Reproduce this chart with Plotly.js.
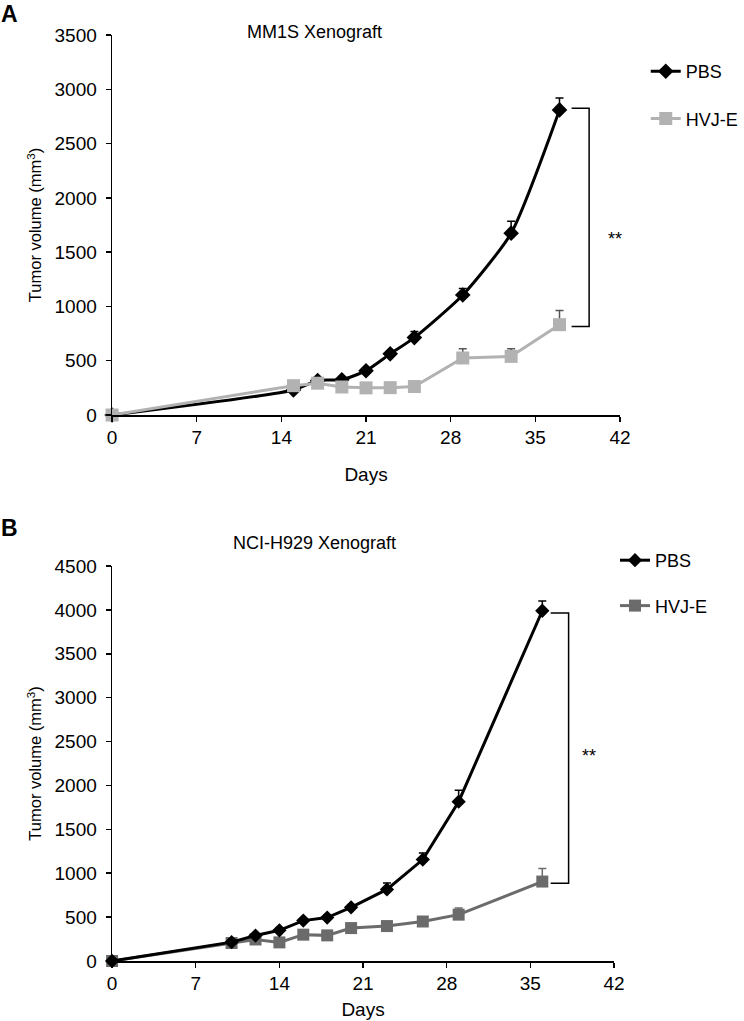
<!DOCTYPE html>
<html>
<head>
<meta charset="utf-8">
<script src="https://cdn.plot.ly/plotly-3.0.1.min.js"></script>
<style>html,body{margin:0;padding:0;background:#fff;}#chart{width:744px;height:1021px;}</style>
</head>
<body>
<div id="chart"></div>
<script>
// ---- Panel A: MM1S Xenograft ----
const daysA_PBS = [0, 15, 17, 19, 21, 23, 25, 29, 33, 37];
const volA_PBS  = [0, 230, 318, 325, 408, 563, 713, 1105, 1675, 2810];
const errA_PBS  = [0, 0, 20, 15, 20, 25, 55, 60, 110, 110];
const daysA_HVJ = [0, 15, 17, 19, 21, 23, 25, 29, 33, 37];
const volA_HVJ  = [0, 270, 293, 258, 250, 252, 262, 525, 540, 832];
const errA_HVJ  = [0, 0, 15, 15, 15, 15, 15, 85, 70, 130];

// ---- Panel B: NCI-H929 Xenograft ----
const daysB_PBS = [0, 10, 12, 14, 16, 18, 20, 23, 26, 29, 36];
const volB_PBS  = [0, 215, 290, 350, 460, 495, 612, 815, 1155, 1815, 3990];
const errB_PBS  = [0, 20, 20, 25, 25, 25, 30, 75, 75, 130, 110];
const daysB_HVJ = [0, 10, 12, 14, 16, 18, 20, 23, 26, 29, 36];
const volB_HVJ  = [0, 205, 245, 212, 300, 292, 375, 398, 450, 528, 905];
const errB_HVJ  = [0, 30, 30, 30, 30, 30, 20, 20, 20, 75, 150];

const seriesNames = ['PBS', 'HVJ-E'];
const xTicks = [0, 7, 14, 21, 28, 35, 42];
const titleA = 'MM1S Xenograft';
const titleB = 'NCI-H929 Xenograft';
const yTitle = 'Tumor volume (mm<sup>3</sup>)';
const xTitle = 'Days';

const FONT = 'Liberation Sans, Arial, sans-serif';
const lightGray = '#b2b2b2';
const darkGray = '#6b6b6b';

function errUp(arr, color) {
  return {type: 'data', symmetric: false, array: arr, arrayminus: arr.map(() => 0),
          color: color, thickness: 1.5, width: 4, visible: true};
}

const traces = [
  {x: daysA_PBS, y: volA_PBS, name: seriesNames[0], xaxis: 'x', yaxis: 'y', mode: 'lines+markers',
   line: {color: '#000', width: 3, shape: 'spline', smoothing: 0.6}, marker: {symbol: 'diamond', size: 12, color: '#000'},
   error_y: errUp(errA_PBS, '#000'), cliponaxis: false, legend: 'legend', legendgroup: 'a1', legendrank: 1},
  {x: daysA_HVJ, y: volA_HVJ, name: seriesNames[1], xaxis: 'x', yaxis: 'y', mode: 'lines+markers',
   line: {color: lightGray, width: 3}, marker: {symbol: 'square', size: 13, color: lightGray},
   error_y: errUp(errA_HVJ, '#555'), cliponaxis: false, legend: 'legend', legendgroup: 'a2', legendrank: 2},
  {x: daysB_HVJ, y: volB_HVJ, name: seriesNames[1], xaxis: 'x2', yaxis: 'y2', mode: 'lines+markers',
   line: {color: darkGray, width: 3}, marker: {symbol: 'square', size: 12, color: darkGray},
   error_y: errUp(errB_HVJ, darkGray), cliponaxis: false, legend: 'legend2', legendgroup: 'b2', legendrank: 2},
  {x: daysB_PBS, y: volB_PBS, name: seriesNames[0], xaxis: 'x2', yaxis: 'y2', mode: 'lines+markers',
   line: {color: '#000', width: 3}, marker: {symbol: 'diamond', size: 11, color: '#000'},
   error_y: errUp(errB_PBS, '#000'), cliponaxis: false, legend: 'legend2', legendgroup: 'b1', legendrank: 1}
];

const axCommon = {showgrid: false, zeroline: false, showline: true, linecolor: '#000', linewidth: 1.5,
  ticks: 'outside', ticklen: 5, tickwidth: 1.5, tickcolor: '#000',
  tickfont: {family: FONT, size: 19, color: '#000'}};

const W = 744, H = 1021;
const layout = {
  width: W, height: H, margin: {l: 0, r: 0, t: 0, b: 0},
  paper_bgcolor: '#fff', plot_bgcolor: '#fff',
  font: {family: FONT, color: '#000'},
  xaxis: Object.assign({}, axCommon, {domain: [113/W, 625/W], range: [0, 42], tickvals: xTicks, anchor: 'y',
    title: {text: xTitle, font: {family: FONT, size: 19}, standoff: 20}}),
  yaxis: Object.assign({}, axCommon, {domain: [1-415/H, 1-35/H], range: [0, 3500], dtick: 500, anchor: 'x',
    ticklabelstandoff: 5,
    title: {text: yTitle, font: {family: FONT, size: 16.5}, standoff: 8}}),
  xaxis2: Object.assign({}, axCommon, {domain: [113/W, 619/W], range: [0, 42], tickvals: xTicks, anchor: 'y2',
    title: {text: xTitle, font: {family: FONT, size: 19}, standoff: 9}}),
  yaxis2: Object.assign({}, axCommon, {domain: [1-961/H, 1-566/H], range: [0, 4500], dtick: 500, anchor: 'x2',
    ticklabelstandoff: 5,
    title: {text: yTitle, font: {family: FONT, size: 16.5}, standoff: 8}}),
  legend: {x: 651/W, y: 1-53/H, xanchor: 'left', yanchor: 'top', font: {family: FONT, size: 18},
    tracegroupgap: 21, bgcolor: 'rgba(0,0,0,0)', traceorder: 'grouped'},
  legend2: {x: 620/W, y: 1-542/H, xanchor: 'left', yanchor: 'top', font: {family: FONT, size: 18},
    tracegroupgap: 19, bgcolor: 'rgba(0,0,0,0)', traceorder: 'grouped'},
  showlegend: true,
  annotations: [
    {text: '<b>A</b>', x: 10/W, y: 1-14/H, xref: 'paper', yref: 'paper', showarrow: false,
     font: {family: FONT, size: 23}, xanchor: 'center', yanchor: 'middle'},
    {text: '<b>B</b>', x: 10/W, y: 1-528/H, xref: 'paper', yref: 'paper', showarrow: false,
     font: {family: FONT, size: 23}, xanchor: 'center', yanchor: 'middle'},
    {text: titleA, x: 317/W, y: 1-32/H, xref: 'paper', yref: 'paper', showarrow: false,
     font: {family: FONT, size: 18}, xanchor: 'center', yanchor: 'middle'},
    {text: titleB, x: 317/W, y: 1-543/H, xref: 'paper', yref: 'paper', showarrow: false,
     font: {family: FONT, size: 18}, xanchor: 'center', yanchor: 'middle'},
    {text: '**', x: 41.6, y: 1620, xref: 'x', yref: 'y', showarrow: false,
     font: {family: FONT, size: 18}, xanchor: 'center', yanchor: 'middle'},
    {text: '**', x: 39.9, y: 2330, xref: 'x2', yref: 'y2', showarrow: false,
     font: {family: FONT, size: 18}, xanchor: 'center', yanchor: 'middle'}
  ],
  shapes: [
    {type: 'path', xref: 'x', yref: 'y', path: 'M38,2825 L39.45,2825 L39.45,815 L38,815',
     line: {color: '#000', width: 1.5}},
    {type: 'path', xref: 'x2', yref: 'y2', path: 'M36.7,3965 L38.2,3965 L38.2,885 L36.7,885',
     line: {color: '#000', width: 1.5}}
  ]
};

Plotly.newPlot('chart', traces, layout, {staticPlot: true, displayModeBar: false});
</script>
</body>
</html>
